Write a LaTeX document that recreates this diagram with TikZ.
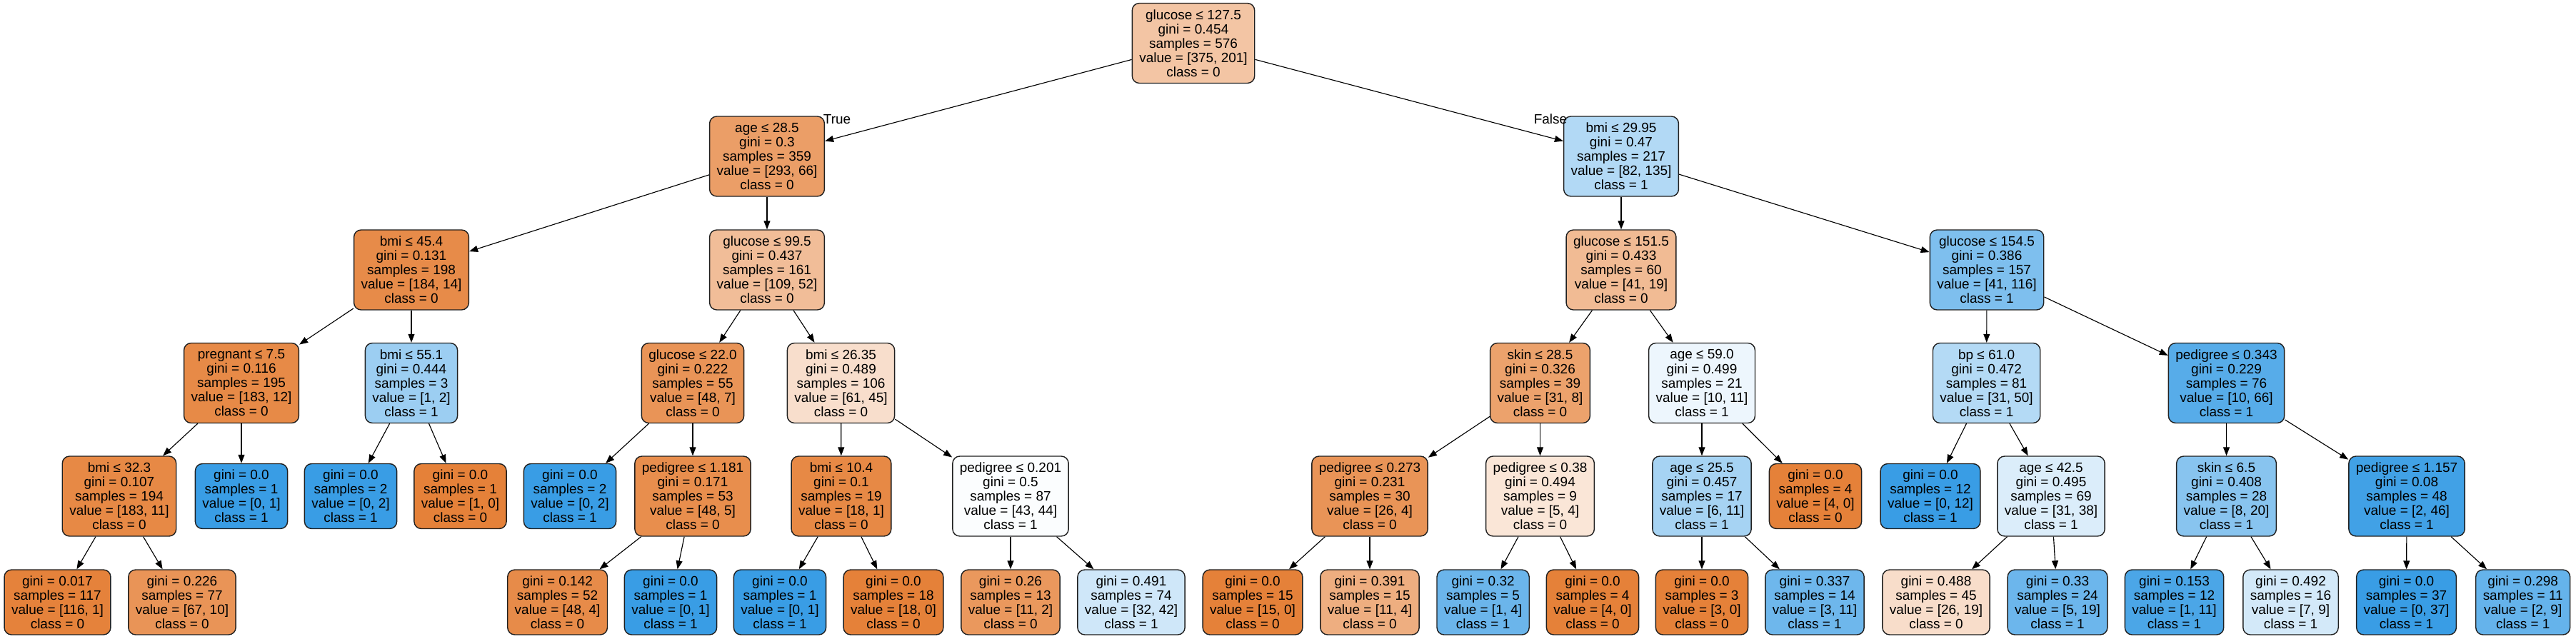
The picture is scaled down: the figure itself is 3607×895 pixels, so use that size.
\documentclass[tikz,border=0pt]{standalone}
\usepackage{fontspec}
\setmainfont{Liberation Sans}
\usepackage{xcolor}
\usepackage{tikz}
\usetikzlibrary{arrows.meta}

\definecolor{classzero}{RGB}{229,129,57}
\definecolor{classone}{RGB}{57,157,229}

\newcommand{\nodestats}[4]{gini = #1\\samples = #2\\value = [#3]\\class = #4}

\tikzset{
  every node/.style={
    font=\fontsize{10.8pt}{11.4pt}\selectfont
  },
  nodebox/.style={
    shape=rectangle,
    rounded corners=0.2cm,
    draw=black!88,
    line width=0.8pt,
    align=center,
    inner xsep=0.2cm,
    inner ysep=0pt
  },
  splitbox/.style={
    nodebox,
    minimum height=2.24cm
  },
  leafbox/.style={
    nodebox,
    minimum height=1.82cm
  },
  branch/.style={
    -{Triangle[length=0.24cm,width=0.18cm]},
    draw=black,
    line width=0.65pt
  }
}

\begin{document}
\begin{tikzpicture}[x=0.02cm,y=-0.02cm]
\useasboundingbox (0,0) rectangle (3607,895);

% depth 0 and 1
\node [splitbox, fill=classzero!46] (n0) at (1671,60.5) {glucose ≤ 127.5\\\nodestats{0.454}{576}{375, 201}{0}};
\node [splitbox, fill=classzero!77] (n1) at (1074,219) {age ≤ 28.5\\\nodestats{0.3}{359}{293, 66}{0}};
\node [splitbox, fill=classone!39] (n2) at (2270,219) {bmi ≤ 29.95\\\nodestats{0.47}{217}{82, 135}{1}};

% depth 2
\node [splitbox, fill=classzero!92] (n3) at (576,378) {bmi ≤ 45.4\\\nodestats{0.131}{198}{184, 14}{0}};
\node [splitbox, fill=classzero!52] (n4) at (1074,378) {glucose ≤ 99.5\\\nodestats{0.437}{161}{109, 52}{0}};
\node [splitbox, fill=classzero!54] (n5) at (2270,378) {glucose ≤ 151.5\\\nodestats{0.433}{60}{41, 19}{0}};
\node [splitbox, fill=classone!65] (n6) at (2782,378) {glucose ≤ 154.5\\\nodestats{0.386}{157}{41, 116}{1}};

% depth 3
\node [splitbox, fill=classzero!93] (n7) at (338,536.5) {pregnant ≤ 7.5\\\nodestats{0.116}{195}{183, 12}{0}};
\node [splitbox, fill=classone!50] (n8) at (576,536.5) {bmi ≤ 55.1\\\nodestats{0.444}{3}{1, 2}{1}};
\node [splitbox, fill=classzero!85] (n9) at (970,536.5) {glucose ≤ 22.0\\\nodestats{0.222}{55}{48, 7}{0}};
\node [splitbox, fill=classzero!26] (n10) at (1177.5,536.5) {bmi ≤ 26.35\\\nodestats{0.489}{106}{61, 45}{0}};
\node [splitbox, fill=classzero!74] (n11) at (2156.5,536.5) {skin ≤ 28.5\\\nodestats{0.326}{39}{31, 8}{0}};
\node [splitbox, fill=classone!9] (n12) at (2383,536.5) {age ≤ 59.0\\\nodestats{0.499}{21}{10, 11}{1}};
\node [splitbox, fill=classone!38] (n13) at (2781.6,536.5) {bp ≤ 61.0\\\nodestats{0.472}{81}{31, 50}{1}};
\node [splitbox, fill=classone!85] (n14) at (3117.5,536.5) {pedigree ≤ 0.343\\\nodestats{0.229}{76}{10, 66}{1}};

% depth 4
\node [splitbox, fill=classzero!94] (n15) at (167,695) {bmi ≤ 32.3\\\nodestats{0.107}{194}{183, 11}{0}};
\node [leafbox, fill=classone] (n16) at (338,695) {\nodestats{0.0}{1}{0, 1}{1}};
\node [leafbox, fill=classone] (n17) at (491,695) {\nodestats{0.0}{2}{0, 2}{1}};
\node [leafbox, fill=classzero] (n18) at (644.5,695) {\nodestats{0.0}{1}{1, 0}{0}};
\node [leafbox, fill=classone] (n19) at (798,695) {\nodestats{0.0}{2}{0, 2}{1}};
\node [splitbox, fill=classzero!90] (n20) at (970,695) {pedigree ≤ 1.181\\\nodestats{0.171}{53}{48, 5}{0}};
\node [splitbox, fill=classzero!94] (n21) at (1178,695) {bmi ≤ 10.4\\\nodestats{0.1}{19}{18, 1}{0}};
\node [splitbox, fill=classone!2] (n22) at (1415,695) {pedigree ≤ 0.201\\\nodestats{0.5}{87}{43, 44}{1}};
\node [splitbox, fill=classzero!85] (n23) at (1918,695) {pedigree ≤ 0.273\\\nodestats{0.231}{30}{26, 4}{0}};
\node [splitbox, fill=classzero!20] (n24) at (2156.5,695) {pedigree ≤ 0.38\\\nodestats{0.494}{9}{5, 4}{0}};
\node [splitbox, fill=classone!45] (n25) at (2383,695) {age ≤ 25.5\\\nodestats{0.457}{17}{6, 11}{1}};
\node [leafbox, fill=classzero] (n26) at (2542,695) {\nodestats{0.0}{4}{4, 0}{0}};
\node [leafbox, fill=classone] (n27) at (2703,695) {\nodestats{0.0}{12}{0, 12}{1}};
\node [splitbox, fill=classone!18] (n28) at (2872,695) {age ≤ 42.5\\\nodestats{0.495}{69}{31, 38}{1}};
\node [splitbox, fill=classone!60] (n29) at (3117.5,695) {skin ≤ 6.5\\\nodestats{0.408}{28}{8, 20}{1}};
\node [splitbox, fill=classone!96] (n30) at (3370,695) {pedigree ≤ 1.157\\\nodestats{0.08}{48}{2, 46}{1}};

% depth 5, all leaves
\node [leafbox, fill=classzero!99] (n31) at (80.5,843.5) {\nodestats{0.017}{117}{116, 1}{0}};
\node [leafbox, fill=classzero!85] (n32) at (255,843.5) {\nodestats{0.226}{77}{67, 10}{0}};
\node [leafbox, fill=classzero!92] (n33) at (780.6,843.5) {\nodestats{0.142}{52}{48, 4}{0}};
\node [leafbox, fill=classone] (n34) at (939,843.5) {\nodestats{0.0}{1}{0, 1}{1}};
\node [leafbox, fill=classone] (n35) at (1092,843.5) {\nodestats{0.0}{1}{0, 1}{1}};
\node [leafbox, fill=classzero] (n36) at (1251,843.5) {\nodestats{0.0}{18}{18, 0}{0}};
\node [leafbox, fill=classzero!82] (n37) at (1415,843.5) {\nodestats{0.26}{13}{11, 2}{0}};
\node [leafbox, fill=classone!24] (n38) at (1584,843.5) {\nodestats{0.491}{74}{32, 42}{1}};
\node [leafbox, fill=classzero] (n39) at (1754,843.5) {\nodestats{0.0}{15}{15, 0}{0}};
\node [leafbox, fill=classzero!64] (n40) at (1918,843.5) {\nodestats{0.391}{15}{11, 4}{0}};
\node [leafbox, fill=classone!75] (n41) at (2076.6,843.5) {\nodestats{0.32}{5}{1, 4}{1}};
\node [leafbox, fill=classzero] (n42) at (2230,843.5) {\nodestats{0.0}{4}{4, 0}{0}};
\node [leafbox, fill=classzero] (n43) at (2383,843.5) {\nodestats{0.0}{3}{3, 0}{0}};
\node [leafbox, fill=classone!73] (n44) at (2541,843.5) {\nodestats{0.337}{14}{3, 11}{1}};
\node [leafbox, fill=classzero!27] (n45) at (2711,843.5) {\nodestats{0.488}{45}{26, 19}{0}};
\node [leafbox, fill=classone!74] (n46) at (2881,843.5) {\nodestats{0.33}{24}{5, 19}{1}};
\node [leafbox, fill=classone!91] (n47) at (3044.5,843.5) {\nodestats{0.153}{12}{1, 11}{1}};
\node [leafbox, fill=classone!22] (n48) at (3207.5,843.5) {\nodestats{0.492}{16}{7, 9}{1}};
\node [leafbox, fill=classone] (n49) at (3369.5,843.5) {\nodestats{0.0}{37}{0, 37}{1}};
\node [leafbox, fill=classone!78] (n50) at (3532.7,843.5) {\nodestats{0.298}{11}{2, 9}{1}};

% branches
\foreach \a/\b in {n0/n1,n0/n2,n1/n3,n1/n4,n2/n5,n2/n6,n3/n7,n3/n8,n4/n9,n4/n10,
  n5/n11,n5/n12,n6/n13,n6/n14,n7/n15,n7/n16,n8/n17,n8/n18,n9/n19,n9/n20,
  n10/n21,n10/n22,n11/n23,n11/n24,n12/n25,n12/n26,n13/n27,n13/n28,n14/n29,n14/n30,
  n15/n31,n15/n32,n20/n33,n20/n34,n21/n35,n21/n36,n22/n37,n22/n38,n23/n39,n23/n40,
  n24/n41,n24/n42,n25/n43,n25/n44,n28/n45,n28/n46,n29/n47,n29/n48,n30/n49,n30/n50}
  \draw [branch] (\a) -- (\b);

\node [inner sep=0pt] (truelbl) at (1172,167) {True};
\node [inner sep=0pt] (falselbl) at (2171,167) {False};

\end{tikzpicture}
\end{document}
